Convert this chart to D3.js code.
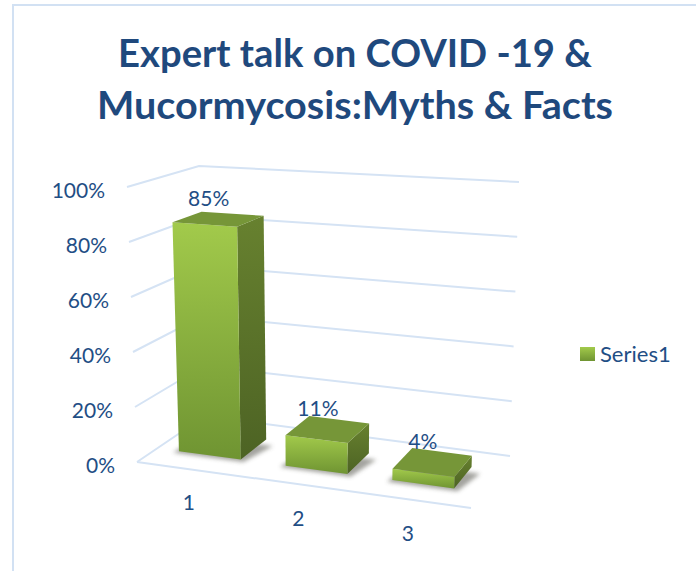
<!DOCTYPE html>
<html lang="en">
<head>
  <meta charset="UTF-8">
  <title>Expert talk on COVID -19 & Mucormycosis</title>
  <script src="https://d3js.org/d3.v7.min.js"></script>
  <style>
    html, body { margin: 0; background: #fff; overflow: hidden; }
    svg { display: block; }
    text { font-family: Lato, sans-serif; fill: #1f4e85; }
    .title { font-size: 39px; font-weight: 700; text-anchor: middle; fill: #1f497d; }
    .tick, .cat, .val { font-size: 21px; }
    .legend { font-size: 22px; }
  </style>
</head>
<body>
<div id="chart"></div>
<script>
  const titleLines = ["Expert talk on COVID -19 &", "Mucormycosis:Myths & Facts"];
  const titleWidths = [474, 516];
  const categories = ["1", "2", "3"];
  const values = [85, 11, 4];
  const ticks = [0, 20, 40, 60, 80, 100];
  const seriesName = "Series1";

  const width = 696, height = 571;
  const fmt = d => d + "%";

  const svg = d3.select("#chart").append("svg")
    .attr("width", width)
    .attr("height", height);

  // corners of the 3d box, [x, y] on screen
  const box = {
    flb: [137, 462], frb: [471, 508], blb: [205, 416], brb: [510, 456],
    flt: [127, 187], frt: [480, 208], blt: [199, 166], brt: [519, 182]
  };

  const mix = (a, b, t) => [a[0] + (b[0] - a[0]) * t, a[1] + (b[1] - a[1]) * t];

  // u = across, v = depth (0 front, 1 back), h = height
  function project(u, v, h) {
    const bottom = mix(mix(box.flb, box.frb, u), mix(box.blb, box.brb, u), v);
    const top = mix(mix(box.flt, box.frt, u), mix(box.blt, box.brt, u), v);
    return mix(bottom, top, h);
  }

  const xBand = d3.scaleBand().domain(categories).range([0, 1])
    .paddingInner(0.421).paddingOuter(0.235).align(0.43);
  const yScale = d3.scaleLinear().domain([0, 100]).range([0, 1]);
  const vFront = 0.3, vBack = 0.72;

  const defs = svg.append("defs");

  function gradient(id, top, bottom) {
    const g = defs.append("linearGradient").attr("id", id)
      .attr("x1", 0).attr("y1", 0).attr("x2", 0).attr("y2", 1);
    g.append("stop").attr("offset", "0%").attr("stop-color", top);
    g.append("stop").attr("offset", "100%").attr("stop-color", bottom);
  }
  gradient("front", "#a2ca4b", "#6f9432");
  gradient("side", "#67812f", "#4d6324");
  gradient("key", "#a2ca4b", "#6f9432");
  defs.append("filter").attr("id", "blur")
    .attr("x", "-20%").attr("y", "-20%").attr("width", "140%").attr("height", "140%")
    .append("feGaussianBlur").attr("stdDeviation", 2.2);

  // frame
  svg.append("path")
    .attr("d", `M13,${height} V5 H${width}`)
    .attr("fill", "none")
    .attr("stroke", "#d2e1f3")
    .attr("stroke-width", 2);

  // title
  svg.selectAll(".title").data(titleLines).enter().append("text")
    .attr("class", "title")
    .attr("x", 355)
    .attr("y", (d, i) => 67 + i * 52)
    .attr("textLength", (d, i) => titleWidths[i])
    .attr("lengthAdjust", "spacingAndGlyphs")
    .text(d => d);

  // walls and floor
  const grid = svg.append("g")
    .attr("fill", "none")
    .attr("stroke", "#d5e3f4")
    .attr("stroke-width", 2);
  const polyline = d3.line();

  grid.selectAll("path.wall").data(ticks).enter().append("path")
    .attr("class", "wall")
    .attr("d", d => polyline([
      project(0, 0, yScale(d)),
      project(0, 1, yScale(d)),
      project(1, 1, yScale(d))
    ]));
  grid.append("path")
    .attr("d", polyline([project(0, 0, 0), project(1, 0, 0)]));

  // value axis labels
  svg.selectAll(".tick").data(ticks).enter().append("text")
    .attr("class", "tick")
    .attr("text-anchor", "end")
    .attr("x", d => project(0, 0, yScale(d))[0] - 22)
    .attr("y", d => project(0, 0, yScale(d))[1] + 11)
    .text(fmt);

  // category labels
  svg.selectAll(".cat").data(categories).enter().append("text")
    .attr("class", "cat")
    .attr("text-anchor", "middle")
    .attr("x", d => project(xBand(d) + xBand.bandwidth() / 2, 0, 0)[0] - 2)
    .attr("y", d => project(xBand(d) + xBand.bandwidth() / 2, 0, 0)[1] + 41)
    .text(d => d);

  // bars
  const bars = categories.map((c, i) => ({
    cat: c,
    value: values[i],
    u0: xBand(c),
    u1: xBand(c) + xBand.bandwidth(),
    h: yScale(values[i])
  }));
  const poly = pts => pts.map(p => p.join(",")).join(" ");

  const bar = svg.selectAll(".bar").data(bars).enter().append("g").attr("class", "bar");

  bar.append("polygon")
    .attr("points", d => poly([
      project(d.u0 - 0.01, vFront - 0.04, 0),
      project(d.u1 + 0.015, vFront - 0.04, 0),
      project(d.u1 + 0.04, vBack - 0.1, 0),
      project(d.u0, vBack - 0.1, 0)
    ]))
    .attr("fill", "#4a4a40")
    .attr("opacity", 0.5)
    .attr("filter", "url(#blur)");

  bar.append("polygon")
    .attr("points", d => poly([
      project(d.u1, vFront, d.h),
      project(d.u1, vBack, d.h),
      project(d.u1, vBack, 0),
      project(d.u1, vFront, 0)
    ]))
    .attr("fill", "url(#side)");

  bar.append("polygon")
    .attr("points", d => poly([
      project(d.u0, vFront, d.h),
      project(d.u1, vFront, d.h),
      project(d.u1, vFront, 0),
      project(d.u0, vFront, 0)
    ]))
    .attr("fill", "url(#front)");

  bar.append("polygon")
    .attr("points", d => poly([
      project(d.u0, vFront, d.h),
      project(d.u1, vFront, d.h),
      project(d.u1, vBack, d.h),
      project(d.u0, vBack, d.h)
    ]))
    .attr("fill", "#769638");

  // data labels sit over the bar tops
  svg.selectAll(".val").data(bars).enter().append("text")
    .attr("class", "val")
    .attr("text-anchor", "middle")
    .attr("x", d => project((d.u0 + d.u1) / 2, (vFront + vBack) / 2, d.h)[0] - 10)
    .attr("y", d => project((d.u0 + d.u1) / 2, (vFront + vBack) / 2, d.h)[1] - 13)
    .text(d => fmt(d.value));

  // legend
  const legend = svg.append("g").attr("transform", "translate(580,347)");
  legend.append("rect")
    .attr("width", 15)
    .attr("height", 14)
    .attr("fill", "url(#key)");
  legend.append("text")
    .attr("class", "legend")
    .attr("x", 20)
    .attr("y", 15)
    .text(seriesName);
</script>
</body>
</html>
